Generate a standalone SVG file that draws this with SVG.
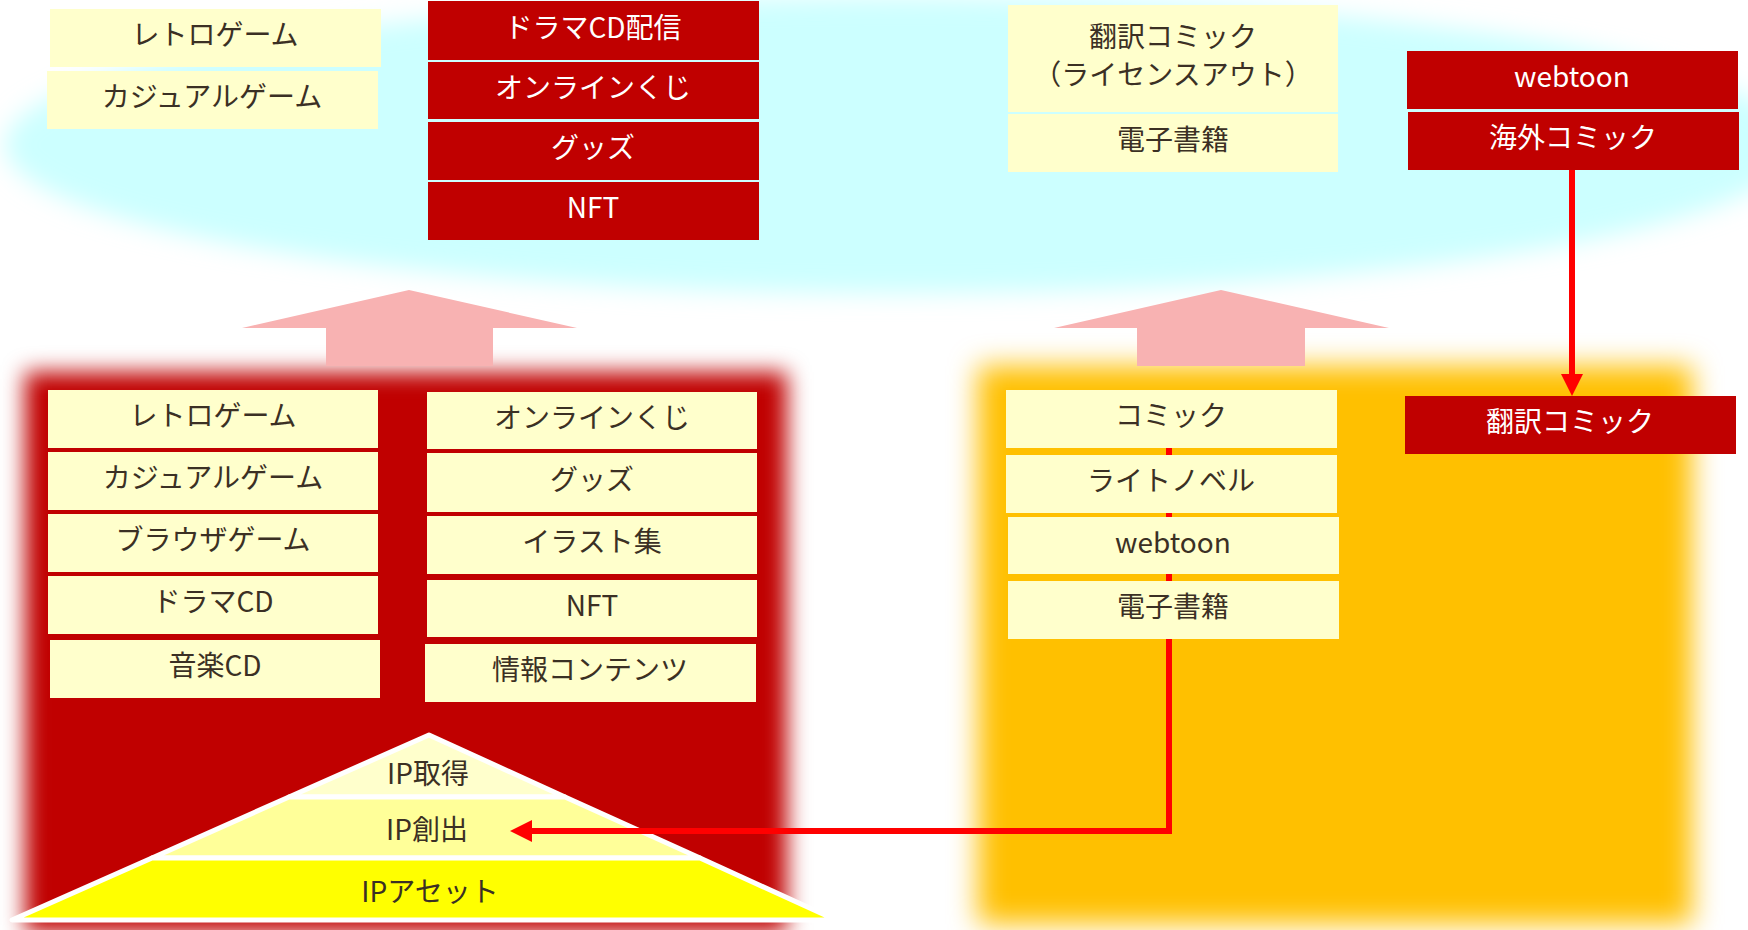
<svg xmlns="http://www.w3.org/2000/svg" width="1748" height="930" viewBox="0 0 1748 930">
<style>
.lb{fill:#FFFFCC}
.rb{fill:#C00000}
.t{font-family:"Noto Sans CJK JP","Noto Sans",sans-serif;font-size:28px;text-anchor:middle;fill:#3B3024}
.w{font-family:"Noto Sans CJK JP","Noto Sans",sans-serif;font-size:28px;text-anchor:middle;fill:#FFFFFF}
.up{fill:#F8B2B2}
.con{fill:none;stroke:#FF0000;stroke-width:6}
.py{stroke:#FFFFFF;stroke-width:5;stroke-linejoin:round}
</style>
<defs>
<filter id="blurA" filterUnits="userSpaceOnUse" x="-100" y="-100" width="1948" height="1130"><feGaussianBlur stdDeviation="12"/></filter>
<filter id="blurB" filterUnits="userSpaceOnUse" x="-100" y="-100" width="1948" height="1130"><feGaussianBlur stdDeviation="11"/></filter>
<filter id="blurC" filterUnits="userSpaceOnUse" x="-100" y="-100" width="1948" height="1130"><feGaussianBlur stdDeviation="14"/></filter>
<marker id="ah" markerUnits="userSpaceOnUse" markerWidth="22" markerHeight="22" refX="0" refY="11" orient="auto"><path d="M0,0 L22,11 L0,22 z" fill="#FF0000"/></marker>
</defs>
<rect width="1748" height="930" fill="#FFFFFF"/>
<g id="backgrounds">
<ellipse cx="900" cy="145" rx="895" ry="148" fill="#CCFFFF" filter="url(#blurA)"/>
<rect x="25" y="372" width="762" height="560" fill="#C00000" filter="url(#blurB)"/>
<rect x="978" y="366" width="714" height="558" fill="#FFC000" filter="url(#blurC)"/>
<polygon class="up" points="409,290 577,328 493,328 493,366 326,366 326,328 242,328"/>
<polygon class="up" points="1221,290 1389,328 1305,328 1305,366 1137,366 1137,328 1054,328"/>
</g>
<g id="pyramid">
<polygon class="py" fill="#FFFFCC" points="429,735 289,797 565,797"/>
<polygon class="py" fill="#FFFF99" points="289,797 152,858 700,858 565,797"/>
<polygon class="py" fill="#FFFF00" points="152,858 12,920 836,920 700,858"/>
<text class="t" x="428" y="784">IP取得</text>
<text class="t" x="427" y="840">IP創出</text>
<text class="t" x="430" y="902">IPアセット</text>
</g>
<g id="connectors">
<path class="con" d="M1169,448 L1169,831 L532,831" marker-end="url(#ah)"/>
<path class="con" d="M1572,170 L1572,374" marker-end="url(#ah)"/>
</g>
<g id="top-left-1"><rect class="lb" x="50" y="9" width="331" height="58"/><text class="t" x="215" y="45">レトロゲーム</text></g>
<g id="top-left-2"><rect class="lb" x="47" y="71" width="331" height="58"/><text class="t" x="212" y="107">カジュアルゲーム</text></g>
<g id="top-red-1"><rect class="rb" x="428" y="1" width="331" height="59"/><text class="w" x="593" y="38">ドラマCD配信</text></g>
<g id="top-red-2"><rect class="rb" x="428" y="62" width="331" height="57"/><text class="w" x="593" y="98">オンラインくじ</text></g>
<g id="top-red-3"><rect class="rb" x="428" y="122" width="331" height="58"/><text class="w" x="593" y="158">グッズ</text></g>
<g id="top-red-4"><rect class="rb" x="428" y="182" width="331" height="58"/><text class="w" x="593" y="218">NFT</text></g>
<g id="top-right-1"><rect class="lb" x="1008" y="5" width="330" height="107"/><text class="t" x="1173" y="47">翻訳コミック</text><text class="t" x="1173" y="85">（ライセンスアウト）</text></g>
<g id="top-right-2"><rect class="lb" x="1008" y="114" width="330" height="58"/><text class="t" x="1173" y="150">電子書籍</text></g>
<g id="top-red-webtoon"><rect class="rb" x="1407" y="51" width="331" height="58"/><text class="w" x="1572" y="87">webtoon</text></g>
<g id="top-red-overseas"><rect class="rb" x="1408" y="112" width="331" height="58"/><text class="w" x="1573" y="148">海外コミック</text></g>
<g id="mid-left-1"><rect class="lb" x="48" y="390" width="330" height="58"/><text class="t" x="213" y="426">レトロゲーム</text></g>
<g id="mid-left-2"><rect class="lb" x="48" y="452" width="330" height="58"/><text class="t" x="213" y="488">カジュアルゲーム</text></g>
<g id="mid-left-3"><rect class="lb" x="48" y="514" width="330" height="58"/><text class="t" x="213" y="550">ブラウザゲーム</text></g>
<g id="mid-left-4"><rect class="lb" x="48" y="576" width="330" height="58"/><text class="t" x="213" y="612">ドラマCD</text></g>
<g id="mid-left-5"><rect class="lb" x="50" y="640" width="330" height="58"/><text class="t" x="215" y="676">音楽CD</text></g>
<g id="mid-right-1"><rect class="lb" x="427" y="392" width="330" height="57"/><text class="t" x="592" y="428">オンラインくじ</text></g>
<g id="mid-right-2"><rect class="lb" x="427" y="453" width="330" height="59"/><text class="t" x="592" y="490">グッズ</text></g>
<g id="mid-right-3"><rect class="lb" x="427" y="516" width="330" height="58"/><text class="t" x="592" y="552">イラスト集</text></g>
<g id="mid-right-4"><rect class="lb" x="427" y="580" width="330" height="57"/><text class="t" x="592" y="616">NFT</text></g>
<g id="mid-right-5"><rect class="lb" x="425" y="644" width="331" height="58"/><text class="t" x="590" y="680">情報コンテンツ</text></g>
<g id="comic"><rect class="lb" x="1006" y="390" width="331" height="58"/><text class="t" x="1171" y="426">コミック</text></g>
<g id="lightnovel"><rect class="lb" x="1006" y="455" width="331" height="58"/><text class="t" x="1171" y="491">ライトノベル</text></g>
<g id="webtoon"><rect class="lb" x="1008" y="517" width="331" height="57"/><text class="t" x="1173" y="553">webtoon</text></g>
<g id="ebook"><rect class="lb" x="1008" y="581" width="331" height="58"/><text class="t" x="1173" y="617">電子書籍</text></g>
<g id="translated-comic"><rect class="rb" x="1405" y="396" width="331" height="58"/><text class="w" x="1570" y="432">翻訳コミック</text></g>
</svg>
